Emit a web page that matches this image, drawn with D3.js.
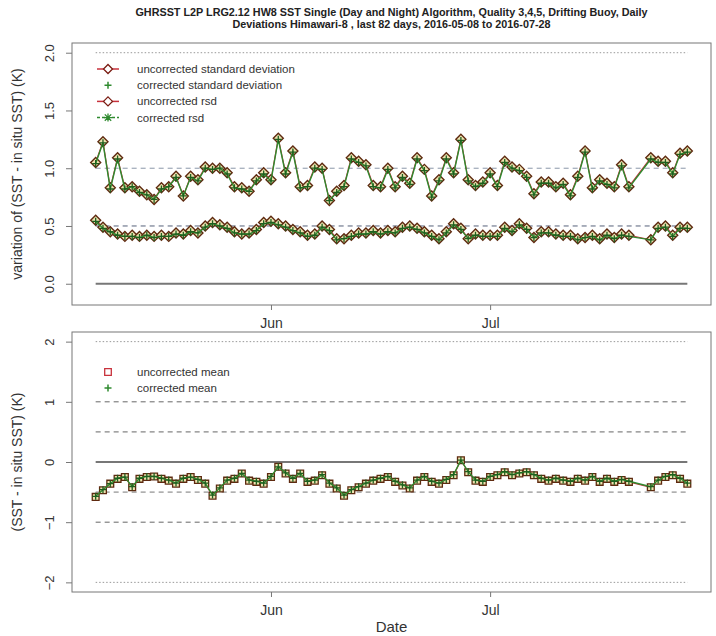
<!DOCTYPE html>
<html>
<head>
<meta charset="utf-8">
<script src="https://cdn.jsdelivr.net/npm/d3@7"></script>
<style>
  body { margin: 0; background: #fff; }
  svg { font-family: "Liberation Sans", Arial, sans-serif; }
</style>
</head>
<body>
<script>
// first and last day of the 82 day window (from the title)
var startDate = "2016-05-08", endDate = "2016-07-28";

var titleLines = [
    "GHRSST L2P LRG2.12 HW8 SST Single (Day and Night) Algorithm, Quality 3,4,5, Drifting Buoy, Daily",
    "Deviations  Himawari-8 , last 82 days,  2016-05-08 to 2016-07-28"
];

// standard deviation, uncorrected / corrected (null = no matchups that day)
var sdUncorrected = [1.05,1.23,0.83,1.09,0.83,0.84,0.80,0.77,0.73,0.83,0.84,0.93,0.76,0.93,0.90,1.01,1.00,1.00,0.96,0.84,
    0.83,0.80,0.90,0.96,0.90,1.26,0.96,1.15,0.84,0.85,1.01,1.00,0.72,0.80,0.85,1.09,1.06,1.03,0.85,0.84,
    1.00,0.84,0.93,0.87,1.09,0.99,0.76,0.90,1.09,0.96,1.25,0.90,0.85,0.88,0.96,0.85,1.06,1.01,0.99,0.93,
    0.78,0.88,0.88,0.84,0.87,0.77,0.93,1.15,0.83,0.90,0.87,0.84,1.03,0.84,null,null,1.09,1.06,1.06,0.96,
    1.13,1.15];
var sdCorrected = [1.04,1.22,0.82,1.08,0.82,0.84,0.79,0.77,0.73,0.82,0.84,0.92,0.76,0.92,0.89,1.00,0.99,1.00,0.95,0.83,
    0.82,0.80,0.89,0.95,0.89,1.25,0.95,1.14,0.83,0.84,1.00,0.99,0.72,0.79,0.84,1.08,1.05,1.02,0.84,0.83,
    0.99,0.83,0.92,0.86,1.08,0.98,0.75,0.89,1.08,0.95,1.24,0.89,0.84,0.87,0.95,0.84,1.05,1.00,0.98,0.92,
    0.77,0.87,0.87,0.83,0.86,0.76,0.92,1.14,0.82,0.89,0.86,0.83,1.02,0.83,null,null,1.08,1.05,1.05,0.95,
    1.12,1.14];

// robust standard deviation
var rsdUncorrected = [0.55,0.49,0.45,0.43,0.41,0.42,0.41,0.42,0.41,0.42,0.41,0.44,0.43,0.46,0.44,0.50,0.53,0.51,0.49,0.45,
    0.43,0.44,0.47,0.53,0.54,0.52,0.50,0.47,0.45,0.42,0.43,0.50,0.47,0.39,0.39,0.42,0.44,0.44,0.46,0.44,
    0.46,0.45,0.49,0.50,0.48,0.45,0.42,0.39,0.45,0.52,0.48,0.39,0.43,0.42,0.42,0.42,0.49,0.46,0.52,0.48,
    0.40,0.45,0.45,0.43,0.42,0.42,0.39,0.40,0.42,0.39,0.43,0.40,0.43,0.42,null,null,0.38,0.49,0.50,0.42,
    0.49,0.49];
var rsdCorrected = [0.54,0.48,0.45,0.42,0.41,0.41,0.40,0.42,0.40,0.41,0.41,0.43,0.42,0.45,0.44,0.49,0.52,0.50,0.48,0.44,
    0.43,0.43,0.46,0.52,0.53,0.51,0.49,0.46,0.44,0.41,0.42,0.49,0.46,0.38,0.39,0.41,0.43,0.43,0.45,0.43,
    0.45,0.44,0.48,0.49,0.47,0.44,0.41,0.38,0.44,0.51,0.47,0.39,0.42,0.41,0.41,0.41,0.48,0.45,0.51,0.47,
    0.40,0.44,0.44,0.42,0.41,0.41,0.38,0.40,0.41,0.38,0.42,0.39,0.42,0.41,null,null,0.38,0.48,0.49,0.41,
    0.48,0.48];

// mean deviation
var meanUncorrected = [-0.58,-0.47,-0.36,-0.28,-0.25,-0.42,-0.28,-0.25,-0.24,-0.28,-0.31,-0.36,-0.28,-0.25,-0.30,-0.36,-0.56,-0.44,-0.31,-0.28,
    -0.19,-0.31,-0.33,-0.36,-0.25,-0.08,-0.19,-0.28,-0.19,-0.33,-0.31,-0.22,-0.36,-0.44,-0.56,-0.47,-0.42,-0.36,-0.31,-0.28,
    -0.25,-0.33,-0.39,-0.44,-0.31,-0.25,-0.33,-0.36,-0.30,-0.22,0.03,-0.17,-0.31,-0.33,-0.25,-0.22,-0.17,-0.22,-0.19,-0.17,
    -0.22,-0.28,-0.31,-0.28,-0.31,-0.33,-0.28,-0.31,-0.25,-0.33,-0.28,-0.33,-0.30,-0.33,null,null,-0.42,-0.31,-0.25,-0.22,
    -0.28,-0.36];
var meanCorrected = [-0.57,-0.46,-0.36,-0.27,-0.25,-0.41,-0.27,-0.24,-0.24,-0.27,-0.30,-0.35,-0.27,-0.25,-0.29,-0.35,-0.55,-0.43,-0.30,-0.27,
    -0.19,-0.30,-0.32,-0.35,-0.24,-0.08,-0.18,-0.27,-0.19,-0.32,-0.30,-0.21,-0.35,-0.43,-0.55,-0.46,-0.41,-0.35,-0.30,-0.27,
    -0.24,-0.32,-0.38,-0.43,-0.30,-0.24,-0.32,-0.35,-0.29,-0.21,0.03,-0.16,-0.30,-0.32,-0.24,-0.21,-0.16,-0.21,-0.18,-0.16,
    -0.21,-0.27,-0.30,-0.27,-0.30,-0.32,-0.27,-0.30,-0.24,-0.32,-0.27,-0.32,-0.29,-0.32,null,null,-0.41,-0.30,-0.24,-0.21,
    -0.27,-0.35];

var topTicks = [0, 0.5, 1, 1.5, 2];
var bottomTicks = [-2, -1, 0, 1, 2];
var monthTicks = ["2016-06-01", "2016-07-01"];

var topLegend = ["uncorrected standard deviation", "corrected standard deviation", "uncorrected rsd", "corrected rsd"];
var bottomLegend = ["uncorrected mean", "corrected mean"];

var red = "#c8323c", darkred = "#5e2a10", green = "#2f8a2f", darkgreen = "#1f5f1f", paleFill = "#eee2b0";

var parse = d3.timeParse("%Y-%m-%d");
var dates = d3.timeDay.range(parse(startDate), d3.timeDay.offset(parse(endDate), 1));

var width = 716, height = 636;
var left = 72, right = 711;

var svg = d3.select("body").append("svg")
    .attr("width", width)
    .attr("height", height);

// R style 4% padding on the date axis
var span = dates[dates.length - 1] - dates[0];
var x = d3.scaleTime()
    .domain([new Date(+dates[0] - span * 0.04), new Date(+dates[dates.length - 1] + span * 0.04)])
    .range([left, right]);

var yTop = d3.scaleLinear().domain([-0.184, 2.084]).range([305, 43]);
var yBot = d3.scaleLinear().domain([-2.16, 2.16]).range([592, 332]);

function diamond(s) { return "M0," + (-s) + "L" + s + ",0L0," + s + "L" + (-s) + ",0Z"; }
function plus(s) { return "M" + (-s) + ",0H" + s + "M0," + (-s) + "V" + s; }
function cross(s) { return "M" + (-s) + "," + (-s) + "L" + s + "," + s + "M" + (-s) + "," + s + "L" + s + "," + (-s); }
function square(s) { return "M" + (-s) + "," + (-s) + "H" + s + "V" + s + "H" + (-s) + "Z"; }

// title
svg.selectAll(".title").data(titleLines).enter().append("text")
    .attr("x", (left + right) / 2)
    .attr("y", function(d, i) { return 16 + i * 12; })
    .attr("text-anchor", "middle")
    .attr("font-size", 10.8)
    .attr("font-weight", "bold")
    .attr("fill", "#222")
    .text(function(d) { return d; });

function panel(y, ticks, fmt, refs) {
    var g = svg.append("g");
    var x0 = x(dates[0]), x1 = x(dates[dates.length - 1]);

    refs.forEach(function(r) {
        g.append("line")
            .attr("x1", x0).attr("x2", x1)
            .attr("y1", y(r.v)).attr("y2", y(r.v))
            .attr("stroke", r.c)
            .attr("stroke-width", r.w || 1)
            .attr("stroke-dasharray", r.dash || null);
    });

    var yr = y.range();
    g.append("rect")
        .attr("x", left).attr("y", yr[1])
        .attr("width", right - left).attr("height", yr[0] - yr[1])
        .attr("fill", "none").attr("stroke", "#777");

    var ya = g.append("g").attr("transform", "translate(" + left + ",0)")
        .call(d3.axisLeft(y).tickValues(ticks).tickSize(6).tickPadding(4).tickFormat(fmt));
    ya.select(".domain").remove();
    ya.selectAll("line").attr("stroke", "#777");
    ya.selectAll(".tick text")
        .attr("x", -23).attr("y", 0)
        .attr("dy", "0.35em")
        .attr("transform", "rotate(-90,-23,0)")
        .attr("text-anchor", "middle")
        .attr("font-size", 13).attr("fill", "#333")
        .attr("font-family", "Liberation Sans, Arial, sans-serif");

    var xa = g.append("g").attr("transform", "translate(0," + yr[0] + ")")
        .call(d3.axisBottom(x).tickValues(monthTicks.map(parse)).tickSize(5).tickPadding(8)
            .tickFormat(d3.timeFormat("%b")));
    xa.select(".domain").remove();
    xa.selectAll("line").attr("stroke", "#777");
    xa.selectAll("text").attr("font-size", 14).attr("fill", "#333")
        .attr("font-family", "Liberation Sans Narrow, Liberation Sans, sans-serif");
    return g;
}

// days with no matchups are simply skipped, so the line joins across the gap
function series(g, y, values, color, width, dash) {
    var pts = dates.map(function(d, i) { return { d: d, v: values[i] }; })
        .filter(function(p) { return p.v != null; });
    var line = d3.line()
        .x(function(p) { return x(p.d); })
        .y(function(p) { return y(p.v); });
    g.append("path")
        .attr("d", line(pts))
        .attr("fill", "none")
        .attr("stroke", color)
        .attr("stroke-width", width)
        .attr("stroke-dasharray", dash || null);
}

function points(g, y, values, shape, color, sw, fill) {
    var pts = dates.map(function(d, i) { return { d: d, v: values[i] }; })
        .filter(function(p) { return p.v != null; });
    g.selectAll(null).data(pts).enter().append("path")
        .attr("transform", function(p) { return "translate(" + x(p.d) + "," + y(p.v) + ")"; })
        .attr("d", shape)
        .attr("fill", fill || "none")
        .attr("stroke", color)
        .attr("stroke-width", sw || 1.2);
}

// ---- top panel: sd and rsd
var topPanel = panel(yTop, topTicks, d3.format(".1f"), [
    { v: 2, c: "#999", dash: "1.5,2" },
    { v: 1, c: "#8a96a8", dash: "5,4" },
    { v: 0.5, c: "#55607a", dash: "5,4" },
    { v: 0, c: "#777", w: 2 }
]);
series(topPanel, yTop, sdUncorrected, red, 1.2);
series(topPanel, yTop, rsdUncorrected, red, 1.2);
points(topPanel, yTop, sdUncorrected, diamond(5), darkred, 1.4, paleFill);
points(topPanel, yTop, rsdUncorrected, diamond(5), darkred, 1.4, paleFill);
series(topPanel, yTop, sdCorrected, green, 1.4);
series(topPanel, yTop, rsdCorrected, green, 1.4);
points(topPanel, yTop, sdCorrected, plus(3.5), darkgreen, 1.3);
points(topPanel, yTop, rsdCorrected, plus(3.5), darkgreen, 1.3);

var leg = topPanel.append("g");
topLegend.forEach(function(t, i) {
    var ly = 69 + i * 16.2;
    var row = leg.append("g").attr("transform", "translate(108," + ly + ")");
    if (i != 1) {
        row.append("line").attr("x1", -11).attr("x2", 11)
            .attr("stroke", i == 3 ? green : red).attr("stroke-width", 1.5)
            .attr("stroke-dasharray", i == 3 ? "3,2" : null);
    }
    if (i == 0 || i == 2) {
        row.append("path").attr("d", diamond(4.5)).attr("fill", "#fff").attr("stroke", "#7a1c12").attr("stroke-width", 1.3);
    } else if (i == 1) {
        row.append("path").attr("d", plus(3.5)).attr("stroke", green).attr("stroke-width", 1.5);
    } else {
        row.append("path").attr("d", cross(3.2) + plus(4)).attr("stroke", green).attr("stroke-width", 1.3);
    }
    row.append("text").attr("x", 29).attr("dy", "0.35em")
        .attr("font-size", 11.5).attr("fill", "#333").text(t);
});

svg.append("text")
    .attr("transform", "translate(22," + (yTop(0.95)) + ") rotate(-90)")
    .attr("text-anchor", "middle")
    .attr("font-size", 14).attr("fill", "#333")
    .text("variation of (SST - in situ SST) (K)");

// ---- bottom panel: mean
var botPanel = panel(yBot, bottomTicks, d3.format("d"), [
    { v: 2, c: "#999", dash: "1.5,2" },
    { v: 1, c: "#666", dash: "5,4" },
    { v: 0.5, c: "#666", dash: "5,4" },
    { v: 0, c: "#777", w: 2 },
    { v: -0.5, c: "#777", dash: "5,4" },
    { v: -1, c: "#666", dash: "5,4" },
    { v: -2, c: "#999", dash: "1.5,2" }
]);
series(botPanel, yBot, meanUncorrected, red, 1.2);
points(botPanel, yBot, meanUncorrected, square(3.4), darkred, 1.3, paleFill);
series(botPanel, yBot, meanCorrected, green, 1.4);
points(botPanel, yBot, meanCorrected, plus(3.5), darkgreen, 1.3);

bottomLegend.forEach(function(t, i) {
    var ly = 372 + i * 16;
    var row = botPanel.append("g").attr("transform", "translate(108," + ly + ")");
    if (i == 0) {
        row.append("path").attr("d", square(3.3)).attr("fill", "none").attr("stroke", red).attr("stroke-width", 1.3);
    } else {
        row.append("path").attr("d", plus(3.5)).attr("stroke", green).attr("stroke-width", 1.5);
    }
    row.append("text").attr("x", 29).attr("dy", "0.35em")
        .attr("font-size", 11.5).attr("fill", "#333").text(t);
});

svg.append("text")
    .attr("transform", "translate(22," + yBot(0) + ") rotate(-90)")
    .attr("text-anchor", "middle")
    .attr("font-size", 14).attr("fill", "#333")
    .text("(SST - in situ SST) (K)");

svg.append("text")
    .attr("x", (left + right) / 2).attr("y", 632)
    .attr("text-anchor", "middle")
    .attr("font-size", 15).attr("fill", "#333")
    .attr("font-family", "Liberation Sans Narrow, Liberation Sans, sans-serif")
    .text("Date");
</script>
</body>
</html>
